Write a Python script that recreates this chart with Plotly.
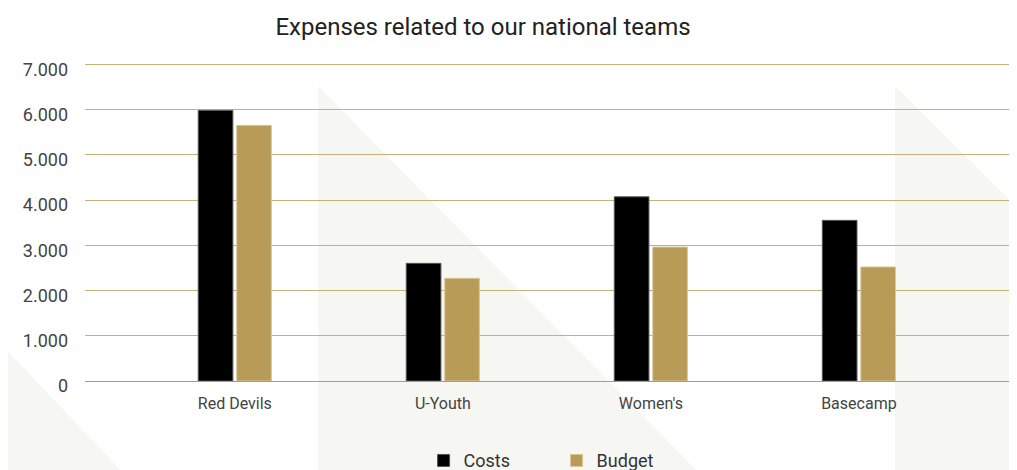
import plotly.graph_objects as go

categories = ["Red Devils", "U-Youth", "Women's", "Basecamp"]
costs = [5980, 2600, 4070, 3550]
budget = [5650, 2270, 2960, 2520]
y_ticks = [0, 1000, 2000, 3000, 4000, 5000, 6000, 7000]

GOLD = "#b89b57"
GRID = "#c9b07a"
BG_SHAPE = "#f6f6f2"

fig = go.Figure()
fig.add_trace(go.Bar(name="Costs", x=categories, y=costs, marker=dict(color="#000000", line=dict(color="#555555", width=1))))
fig.add_trace(go.Bar(name="Budget", x=categories, y=budget, marker=dict(color=GOLD, line=dict(color="#d8c89a", width=1))))

# decorative background shapes (paper coordinates)
shapes = [
    dict(type="path", path="M 0.25 0.925 L 0.25 -0.3 L 0.663 -0.3 Z"),
    dict(type="path", path="M 0.869 0.925 L 1.0 0.545 L 1.0 -0.3 L 0.869 -0.3 Z"),
    dict(type="path", path="M -0.0912 0.119 L -0.0912 -0.3 L 0.045 -0.3 Z"),
]
for s in shapes:
    s.update(xref="paper", yref="paper", fillcolor=BG_SHAPE, line=dict(width=0), layer="below")

fig.update_layout(
    width=1017, height=470,
    margin=dict(l=77, r=8, t=54, b=97, autoexpand=False),
    paper_bgcolor="white", plot_bgcolor="rgba(0,0,0,0)",
    font=dict(family="Roboto", color="#444444"),
    separators=",.",
    title=dict(text="Expenses related to our national teams", x=475 / 1017, xref="container", xanchor="center",
               y=1 - 19 / 470, yref="container", yanchor="middle",
               font=dict(size=24, color="#222222", family="Roboto")),
    barmode="group", bargap=0.63, bargroupgap=0.1,
    shapes=shapes,
    showlegend=True,
    legend=dict(orientation="h", x=0.506, xanchor="center", y=-0.25, yanchor="middle",
                font=dict(size=18, color="#333333"), entrywidth=88, bgcolor="rgba(0,0,0,0)"),
)
fig.update_xaxes(range=[-0.72, 3.76], showgrid=False, showline=True, linecolor=GOLD, linewidth=1,
                 tickfont=dict(size=16, color="#444444"), ticks="", ticklabelstandoff=8, automargin=False)
fig.update_yaxes(range=[0, 7050], tickvals=y_ticks, tickformat=",d", separatethousands=True,
                 showgrid=True, gridcolor=GRID, gridwidth=1, zeroline=False, showline=False,
                 tickfont=dict(size=18, color="#444444"), ticklabelstandoff=16, ticklabelshift=5,
                 automargin=False)

fig.write_html("out.html")
